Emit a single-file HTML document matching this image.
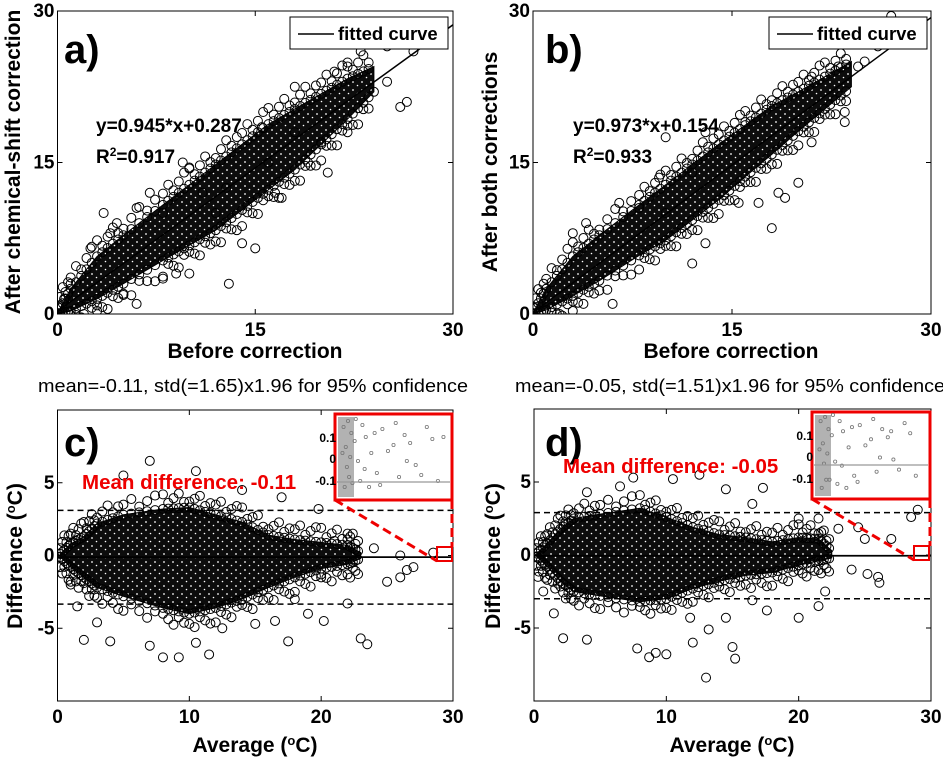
<!DOCTYPE html>
<html><head><meta charset="utf-8"><style>
html,body{margin:0;padding:0;background:#fff;}
svg{display:block;font-family:"Liberation Sans",Arial,sans-serif;}
</style></head><body>
<svg id="fig" width="943" height="760" viewBox="0 0 943 760">
<defs>
<clipPath id="clipA"><rect x="57.5" y="11" width="395.5" height="303"/></clipPath>
<clipPath id="clipB"><rect x="533" y="11" width="398" height="303"/></clipPath>
<clipPath id="clipC"><rect x="57.5" y="410" width="395.5" height="291"/></clipPath>
<clipPath id="clipD"><rect x="534" y="409" width="397" height="292"/></clipPath>
<pattern id="speck" width="9" height="8" patternUnits="userSpaceOnUse">
<rect width="9" height="8" fill="#0c0c0c"/>
<circle cx="2" cy="2" r="0.9" fill="#fff"/>
<circle cx="6.5" cy="5.5" r="0.8" fill="#fff"/>
</pattern>
</defs>
</svg>
<script>
// ---------- data ----------
const xTicksTop = [0, 15, 30];
const yTicksTop = [0, 15, 30];
const xTicksBot = [0, 10, 20, 30];
const yTicksBot = [-5, 0, 5];

const fitA = [0.945, 0.287];
const fitB = [0.973, 0.154];

const bandAx = [0, 1, 3, 5, 8, 10, 12, 14, 16, 18, 20, 22, 24];
const bandAlo = [0, 0.3, 1.5, 3, 5.3, 6.8, 8.3, 10.3, 12.3, 14.3, 16.8, 19.3, 22];
const bandAhi = [0.1, 2.5, 5.7, 7.8, 10.8, 12.8, 14.8, 16.8, 18.8, 20.3, 21.8, 23.3, 24.5];
const outAx = [2.5,3.5,4,6,7,8,10,11,12,12.8,14,15,16,18,20,21,22,24,25,26,26.5,20.5,19,13,10,6,5,2,3,8,9,17,16.5,18,23,25,27,22,1,0.5,4.5,9.5,15.5];
const outAy = [6.5,10,8,10.5,12,10,14.5,12,10,12.5,7,6.5,15,18,17,24,24.5,22,23,20.5,21,14,15,3,4,1,2,0,0.3,3.5,4,11.5,12,22.5,26,26.5,26,18,3,1.5,9,15,18.5];

const bandBx = [0, 1, 3, 5, 8, 10, 12, 14, 16, 18, 20, 22, 24];
const bandBlo = [0, 0.4, 1.8, 3.3, 5.8, 7.3, 9.3, 11.3, 13.6, 15.8, 18.1, 20.3, 22.5];
const bandBhi = [0.1, 2.5, 5.7, 7.8, 10.8, 12.8, 14.8, 16.8, 18.7, 20.6, 22, 23.5, 25];
const outBx = [21,23.5,23.5,16,17,18,18.5,19,12,10,13,21,23,26,27,4,3,8,10,6,2,3,12,13,15.5,25,24.5,20,6.5,9.5,1];
const outBy = [17,20,19,19,11,8.5,12,11.5,14,17.5,18,23.5,24.5,26.5,29.5,9,8,10.5,10,1,0,0.3,5,7,11,25,24.5,13,11,13.5,2.5];

const bandCx = [0.2, 1, 2, 3, 5, 8, 10, 12, 14, 16, 18, 20, 22, 23];
const bandClo = [-0.1, -0.8, -1.5, -2.2, -2.8, -3.6, -4, -3.6, -3, -2.2, -1.5, -0.9, -0.6, -0.2];
const bandChi = [0.1, 0.8, 1.3, 2.2, 2.8, 3.2, 3.3, 2.8, 2.3, 1.4, 1.1, 0.9, 0.7, 0.2];
const outCx = [7,5,10.5,14,17,19.8,22,24,26,28.5,27,25,26,22,20.2,17.5,23,23.5,2,4,8,9.2,11.5,7,10.5,19,3,1,1.5,12.5,16.5,18,15,21,20,26.5];
const outCy = [6.5,5.5,5.8,4.5,4,3.2,1.5,0.5,0,0.2,-0.8,-1.8,-1.5,-3.3,-4.5,-5.9,-5.7,-6.1,-5.8,-5.9,-7,-7,-6.8,-6.2,-6,-4,-4.6,-2,-3.5,-5,-4.5,-3,-4.7,1,-1.5,-1];

const bandDx = [0.2, 1, 2, 3, 5, 8, 10, 12, 14, 16, 18, 20, 21.5, 22.5];
const bandDlo = [-0.1, -0.8, -1.8, -2.5, -2.8, -3.2, -3, -2.3, -1.8, -1.4, -1.2, -0.7, -0.4, -0.2];
const bandDhi = [0.1, 0.8, 1.8, 2.5, 2.8, 3.2, 2.6, 1.9, 1.4, 1.2, 0.9, 1.2, 1.1, 0.3];
const outDx = [7.5,10.5,12.5,14.5,17.3,16.5,20,21.5,23,24.5,27,28.5,29,25,24,25.2,26,26.1,22,21.5,20,17.6,14.5,15,15.2,13,13.2,12,10,9.2,8.7,7.8,2.2,4,1.5,0.3,0.7,16.5,11.8,4,6.5];
const outDy = [5.3,5.2,5.5,4.5,4.6,3.5,2.5,2.5,1.8,1.9,1.1,2.6,3.1,1.1,-1,-1.3,-1.5,-1.9,-2.5,-3.5,-4.3,-3.8,-4.3,-6.3,-7.1,-8.4,-5.1,-6,-6.8,-6.7,-7,-6.4,-5.7,-5.8,-4,-1.5,-2.5,-3.1,-4.3,4.3,4.7];

const insetCx = [0.05,0.07,0.1,0.12,0.08,0.15,0.2,0.25,0.3,0.35,0.4,0.5,0.55,0.6,0.7,0.8,0.85,0.9,0.06,0.09,0.11,0.18,0.22,0.28,0.33,0.45,0.65,0.75,0.04,0.13,0.16,0.24,0.38,0.52,0.95,0.62];
const insetCy = [0.15,0.05,-0.1,0.12,-0.05,0.08,-0.12,0.1,0.02,-0.08,0.14,0.06,-0.1,0.11,-0.04,0.15,0.09,-0.12,-0.15,0.18,0.0,-0.02,0.16,-0.15,0.12,0.03,0.07,-0.09,0.02,-0.13,0.19,-0.06,-0.14,0.17,0.1,-0.02];
const insetDx = [0.05,0.07,0.1,0.12,0.08,0.15,0.2,0.25,0.3,0.35,0.4,0.5,0.55,0.6,0.7,0.8,0.85,0.9,0.06,0.09,0.11,0.18,0.22,0.28,0.33,0.45,0.65,0.75,0.04,0.13,0.16,0.24,0.38,0.52,0.68,0.58];
const insetDy = [0.17,0.06,-0.12,0.13,-0.04,0.1,-0.14,0.12,0.04,-0.1,0.15,0.08,-0.08,0.13,-0.02,0.16,0.11,-0.1,-0.16,0.19,0.01,-0.03,0.17,-0.16,0.14,0.05,0.09,-0.07,0.03,-0.12,0.2,-0.05,-0.13,0.18,0.12,-0.01];

// ---------- drawing ----------
const NS = "http://www.w3.org/2000/svg";
const svg = document.getElementById("fig");
function mk(tag, attrs, parent, text) {
  const e = document.createElementNS(NS, tag);
  for (const k in attrs) e.setAttribute(k, attrs[k]);
  if (text !== undefined) e.textContent = text;
  (parent || svg).appendChild(e);
  return e;
}
function scale(d0, d1, p0, p1) { return v => p0 + (v - d0) * (p1 - p0) / (d1 - d0); }

function panel(cfg) {
  const g = mk("g", {});
  
  
  const X = scale(cfg.xd[0], cfg.xd[1], cfg.L, cfg.R);
  const Y = scale(cfg.yd[0], cfg.yd[1], cfg.B, cfg.T);
  const plot = mk("g", { "clip-path": "url(#" + cfg.clip + ")" }, g);
  
  
  let pts = [];
  for (let i = 0; i < cfg.bx.length; i++) pts.push(X(cfg.bx[i]) + "," + Y(cfg.bhi[i]));
  for (let i = cfg.bx.length - 1; i >= 0; i--) pts.push(X(cfg.bx[i]) + "," + Y(cfg.blo[i]));
  const band = mk("polygon", { points: pts.join(" "), fill: "url(#speck)", stroke: "#000", "stroke-width": 1 }, plot);
  
  
  const off = cfg.off;
  for (let i = 0; i < cfg.bx.length - 1; i++) {
    for (let t = 0; t < 1; t += 0.2) {
      const xv = cfg.bx[i] + t * (cfg.bx[i + 1] - cfg.bx[i]);
      const lo = cfg.blo[i] + t * (cfg.blo[i + 1] - cfg.blo[i]);
      const hi = cfg.bhi[i] + t * (cfg.bhi[i + 1] - cfg.bhi[i]);
      const k = Math.round(t * 5 + i) % 3;
      [hi, lo, hi + off * (0.4 + 0.3 * k), lo - off * (0.4 + 0.3 * ((k + 1) % 3))].forEach(v => {
        const c = mk("circle", { cx: X(xv), cy: Y(v), r: 4.5, fill: "none", stroke: "#000", "stroke-width": 1 }, plot);
        
        
      });
    }
  }
  for (let i = 0; i < cfg.ox.length; i++) {
    const c = mk("circle", { cx: X(cfg.ox[i]), cy: Y(cfg.oy[i]), r: 4.5, fill: "none", stroke: "#000", "stroke-width": 1 }, plot);
    
    
  }
  if (cfg.fit) {
    const l = mk("line", { x1: X(0), y1: Y(cfg.fit[1]), x2: X(30), y2: Y(cfg.fit[0] * 30 + cfg.fit[1]), stroke: "#000", "stroke-width": 1.5 }, plot);
    
    
  }
  if (cfg.mean !== undefined) {
    const m = mk("line", { x1: X(0), y1: Y(cfg.mean), x2: cfg.R, y2: Y(cfg.mean), stroke: "#000", "stroke-width": 1.8 }, plot);
    
    
    cfg.limits.forEach(v => {
      const d = mk("line", { x1: cfg.L, y1: Y(v), x2: cfg.R, y2: Y(v), stroke: "#000", "stroke-width": 1.5, "stroke-dasharray": "6,4" }, plot);
      
      
    });
  }
  const fr = mk("rect", { x: cfg.L, y: cfg.T, width: cfg.R - cfg.L, height: cfg.B - cfg.T, fill: "none", stroke: "#000", "stroke-width": 1 }, g);
  
  
  cfg.xt.forEach(v => {
    mk("line", { x1: X(v), y1: cfg.B, x2: X(v), y2: cfg.B - 5, stroke: "#000" }, g);
    mk("line", { x1: X(v), y1: cfg.T, x2: X(v), y2: cfg.T + 5, stroke: "#000" }, g);
    const t = mk("text", { x: X(v), y: cfg.B + 22, "text-anchor": "middle", "font-size": 19, "font-weight": "bold" }, g, v);
    
    
  });
  cfg.yt.forEach(v => {
    mk("line", { x1: cfg.L, y1: Y(v), x2: cfg.L + 5, y2: Y(v), stroke: "#000" }, g);
    mk("line", { x1: cfg.R, y1: Y(v), x2: cfg.R - 5, y2: Y(v), stroke: "#000" }, g);
    const t = mk("text", { x: cfg.L - 3, y: Y(v) + 6, "text-anchor": "end", "font-size": 19, "font-weight": "bold" }, g, v);
    
    
  });
  return { X, Y, g };
}

function insetBox(box, ix, iy, lineY, labelYs, sq) {
  const g = mk("g", {});
  
  
  mk("rect", { x: box[0], y: box[1], width: box[2] - box[0], height: box[3] - box[1], fill: "#fff", stroke: "#e00", "stroke-width": 3 }, g);
  const IX = scale(0, 1, box[0] + 3, box[2] - 3);
  const IY = scale(-0.2, 0.2, box[3] - 3, box[1] + 3);
  mk("rect", { x: box[0] + 3, y: box[1] + 3, width: 16, height: box[3] - box[1] - 6, fill: "#666", opacity: 0.5 }, g);
  for (let i = 0; i < ix.length; i++) {
    const c = mk("circle", { cx: IX(ix[i]), cy: IY(iy[i]), r: 1.6, fill: "none", stroke: "#777", "stroke-width": 0.8 }, g);
    
    
  }
  mk("line", { x1: box[0] + 2, y1: lineY, x2: box[2] - 2, y2: lineY, stroke: "#999", "stroke-width": 1.2 }, g);
  [["0.1", labelYs[0]], ["0", labelYs[1]], ["-0.1", labelYs[2]]].forEach(a => {
    const t = mk("text", { x: box[0] + 1, y: a[1], "text-anchor": "end", "font-size": 12, "font-weight": "bold" }, g, a[0]);
    
    
  });
  const s = mk("rect", { x: sq[0], y: sq[1], width: sq[2], height: sq[3], fill: "none", stroke: "#e00", "stroke-width": 2 }, g);
  
  
  mk("line", { x1: box[0], y1: box[3], x2: sq[0], y2: sq[1] + sq[3], stroke: "#e00", "stroke-width": 3, "stroke-dasharray": "9,5" }, g);
  mk("line", { x1: box[2], y1: box[3], x2: box[2], y2: sq[1], stroke: "#e00", "stroke-width": 3, "stroke-dasharray": "9,5" }, g);
}

function txt(x, y, s, attrs, name) {
  const t = mk("text", Object.assign({ x: x, y: y }, attrs), svg);
  t.innerHTML = s;
  
  
  return t;
}

panel({ name: "panel-a", L: 57.5, R: 453, T: 11, B: 314, xd: [0, 30], yd: [0, 30], clip: "clipA", bx: bandAx, blo: bandAlo, bhi: bandAhi, ox: outAx, oy: outAy, fit: fitA, xt: xTicksTop, yt: yTicksTop, off: 1.6 });
panel({ name: "panel-b", L: 533, R: 931, T: 11, B: 314, xd: [0, 30], yd: [0, 30], clip: "clipB", bx: bandBx, blo: bandBlo, bhi: bandBhi, ox: outBx, oy: outBy, fit: fitB, xt: xTicksTop, yt: yTicksTop, off: 1.4 });
panel({ name: "panel-c", L: 57.5, R: 453, T: 410, B: 701, xd: [0, 30], yd: [-10, 10], clip: "clipC", bx: bandCx, blo: bandClo, bhi: bandChi, ox: outCx, oy: outCy, mean: -0.11, limits: [3.1, -3.34], xt: xTicksBot, yt: yTicksBot, off: 1.0 });
panel({ name: "panel-d", L: 534, R: 931, T: 409, B: 701, xd: [0, 30], yd: [-10, 10], clip: "clipD", bx: bandDx, blo: bandDlo, bhi: bandDhi, ox: outDx, oy: outDy, mean: -0.05, limits: [2.9, -3.0], xt: xTicksBot, yt: yTicksBot, off: 0.9 });

insetBox([335, 414, 452, 500], insetCx, insetCy, 482, [442, 463, 485], [437, 547, 15, 14]);
insetBox([812, 412, 930, 499], insetDx, insetDy, 465, [440, 461, 483], [914, 546, 15, 14]);

[[290, "legend-a"], [769, "legend-b"]].forEach(a => {
  const g = mk("g", {});
  
  
  mk("rect", { x: a[0], y: 17, width: 158, height: 32, fill: "#fff", stroke: "#000" }, g);
  mk("line", { x1: a[0] + 8, y1: 34, x2: a[0] + 44, y2: 34, stroke: "#000", "stroke-width": 1.5 }, g);
  mk("text", { x: a[0] + 48, y: 40, "font-size": 18.5, "font-weight": "bold" }, g, "fitted curve");
});

txt(64, 63, "a)", { "font-size": 40, "font-weight": "bold" }, "panel-label-a");
txt(545, 63, "b)", { "font-size": 40, "font-weight": "bold" }, "panel-label-b");
txt(64, 456, "c)", { "font-size": 40, "font-weight": "bold" }, "panel-label-c");
txt(545, 456, "d)", { "font-size": 40, "font-weight": "bold" }, "panel-label-d");

txt(96, 132, "y=0.945*x+0.287", { "font-size": 19, "font-weight": "bold" }, "equation-a");
txt(96, 163, 'R<tspan baseline-shift="super" font-size="12">2</tspan>=0.917', { "font-size": 19, "font-weight": "bold" }, "r-squared-a");
txt(573, 132, "y=0.973*x+0.154", { "font-size": 19, "font-weight": "bold" }, "equation-b");
txt(573, 163, 'R<tspan baseline-shift="super" font-size="12">2</tspan>=0.933', { "font-size": 19, "font-weight": "bold" }, "r-squared-b");

txt(255, 358, "Before correction", { "font-size": 21, "font-weight": "bold", "text-anchor": "middle" }, "x-axis-title-a");
txt(731, 358, "Before correction", { "font-size": 21, "font-weight": "bold", "text-anchor": "middle" }, "x-axis-title-b");
txt(255, 752, 'Average (<tspan baseline-shift="super" font-size="13">o</tspan>C)', { "font-size": 21, "font-weight": "bold", "text-anchor": "middle" }, "x-axis-title-c");
txt(732, 752, 'Average (<tspan baseline-shift="super" font-size="13">o</tspan>C)', { "font-size": 21, "font-weight": "bold", "text-anchor": "middle" }, "x-axis-title-d");
txt(0, 0, "After chemical-shift correction", { "font-size": 21, "font-weight": "bold", "text-anchor": "middle", transform: "translate(20,162) rotate(-90)" }, "y-axis-title-a");
txt(0, 0, "After both corrections", { "font-size": 21, "font-weight": "bold", "text-anchor": "middle", transform: "translate(497,162) rotate(-90)" }, "y-axis-title-b");
txt(0, 0, 'Difference (<tspan baseline-shift="super" font-size="13">o</tspan>C)', { "font-size": 21, "font-weight": "bold", "text-anchor": "middle", transform: "translate(22,556) rotate(-90)" }, "y-axis-title-c");
txt(0, 0, 'Difference (<tspan baseline-shift="super" font-size="13">o</tspan>C)', { "font-size": 21, "font-weight": "bold", "text-anchor": "middle", transform: "translate(500,556) rotate(-90)" }, "y-axis-title-d");

txt(38, 392, "mean=-0.11, std(=1.65)x1.96 for 95% confidence", { "font-size": 18.5, textLength: 430, lengthAdjust: "spacingAndGlyphs" }, "title-c");
txt(515, 392, "mean=-0.05, std(=1.51)x1.96 for 95% confidence", { "font-size": 18.5, textLength: 430, lengthAdjust: "spacingAndGlyphs" }, "title-d");

txt(82, 489, "Mean difference: -0.11", { "font-size": 20.5, "font-weight": "bold", fill: "#e00" }, "mean-difference-c");
txt(563, 473, "Mean difference: -0.05", { "font-size": 20.5, "font-weight": "bold", fill: "#e00" }, "mean-difference-d");
</script>
</body></html>
